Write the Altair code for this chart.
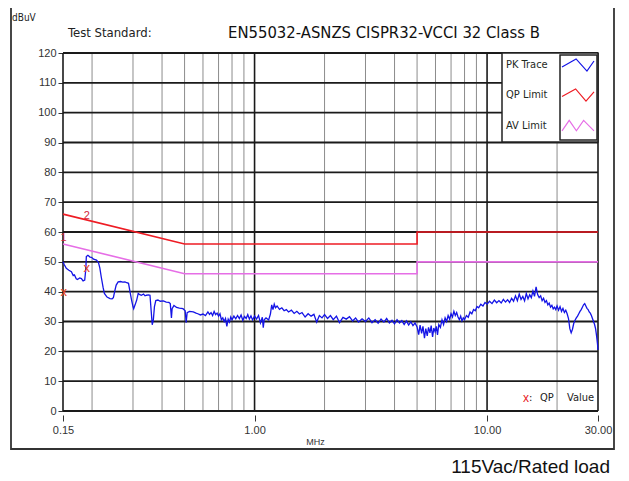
import altair as alt
import pandas as pd

# ---------------- data ----------------
FREQ = [0.150, 0.152, 0.155, 0.159, 0.163, 0.166, 0.168, 0.171, 0.173, 0.177, 0.180, 0.183, 0.186, 0.188, 0.189,
        0.192, 0.196, 0.199, 0.203, 0.209, 0.213, 0.216, 0.219, 0.223, 0.226, 0.232, 0.239, 0.244, 0.247, 0.251,
        0.254, 0.259, 0.265, 0.271, 0.277, 0.282, 0.287, 0.292, 0.296, 0.300, 0.302, 0.306, 0.311, 0.316, 0.321,
        0.326, 0.333, 0.338, 0.343, 0.350, 0.355, 0.359, 0.363, 0.367, 0.371, 0.376, 0.384, 0.393, 0.405, 0.417,
        0.428, 0.434, 0.439, 0.442, 0.450, 0.462, 0.475, 0.492, 0.503, 0.508, 0.513, 0.525, 0.545, 0.560, 0.570,
        0.585, 0.600, 0.615, 0.630, 0.640, 0.650, 0.660, 0.670, 0.680, 0.690, 0.700, 0.710, 0.720, 0.730, 0.740,
        0.750, 0.760, 0.770, 0.780, 0.790, 0.800, 0.815, 0.830, 0.845, 0.860, 0.875, 0.890, 0.905, 0.920, 0.935,
        0.950, 0.965, 0.980, 1.000, 1.020, 1.040, 1.060, 1.080, 1.090, 1.100, 1.120, 1.150, 1.170, 1.185, 1.200,
        1.215, 1.230, 1.250, 1.280, 1.310, 1.340, 1.370, 1.400, 1.440, 1.480, 1.520, 1.560, 1.600, 1.650, 1.700,
        1.750, 1.800, 1.850, 1.900, 1.950, 2.000, 2.060, 2.120, 2.180, 2.250, 2.320, 2.400, 2.480, 2.560, 2.640,
        2.720, 2.800, 2.900, 3.000, 3.100, 3.200, 3.300, 3.400, 3.500, 3.600, 3.700, 3.800, 3.900, 4.000, 4.100,
        4.200, 4.300, 4.400, 4.500, 4.600, 4.700, 4.800, 4.900, 5.000, 5.080, 5.150, 5.230, 5.300, 5.380, 5.450,
        5.530, 5.600, 5.680, 5.750, 5.830, 5.900, 5.980, 6.050, 6.120, 6.200, 6.300, 6.400, 6.500, 6.600, 6.700,
        6.800, 6.900, 7.000, 7.100, 7.200, 7.300, 7.400, 7.500, 7.600, 7.700, 7.800, 7.900, 8.000, 8.150, 8.300,
        8.450, 8.600, 8.750, 8.900, 9.050, 9.200, 9.400, 9.600, 9.800, 10.00, 10.25, 10.50, 10.75, 11.00, 11.25,
        11.50, 11.75, 12.00, 12.25, 12.50, 12.75, 13.00, 13.25, 13.50, 13.75, 14.00, 14.25, 14.50, 14.75, 15.00,
        15.25, 15.50, 15.75, 16.00, 16.25, 16.50, 16.75, 17.00, 17.25, 17.50, 17.75, 18.00, 18.25, 18.50, 18.75,
        19.00, 19.25, 19.50, 19.75, 20.00, 20.30, 20.60, 20.90, 21.20, 21.50, 21.80, 22.10, 22.40, 22.70, 23.00,
        23.30, 23.60, 23.90, 24.20, 24.50, 24.80, 25.10, 25.40, 25.70, 26.00, 26.30, 26.60, 26.90, 27.20, 27.50,
        27.80, 28.10, 28.40, 28.70, 29.00, 29.30, 29.60, 29.85, 30.00]
PK = [50.0, 49.0, 47.8, 47.2, 46.7, 45.4, 45.6, 44.3, 44.1, 44.6, 44.4, 43.6, 43.9, 47.5, 51.8,
      52.2, 51.6, 51.5, 50.9, 50.6, 49.8, 48.0, 45.0, 41.5, 39.4, 38.2, 37.7, 37.6, 38.0, 40.5,
      42.2, 43.3, 43.4, 43.2, 43.3, 43.0, 42.8, 39.5, 37.1, 35.0, 34.3, 35.5, 37.1, 39.4, 39.0,
      38.8, 39.2, 38.6, 38.8, 38.9, 38.8, 33.8, 28.9, 30.5, 35.0, 37.0, 37.2, 36.8, 36.9, 36.5,
      36.4, 36.0, 31.2, 34.3, 35.4, 34.7, 34.5, 34.3, 33.6, 29.6, 33.0, 33.4, 33.2, 32.8, 32.6,
      32.2, 32.5, 32.0, 33.2, 32.4, 33.0, 32.0, 33.4, 32.3, 32.8, 31.8, 32.6, 30.6, 31.2, 30.0,
      31.0, 28.4, 30.8, 29.8, 31.5, 30.6, 31.8, 30.9, 32.0, 31.0, 32.2, 30.4, 31.7, 31.0, 32.3,
      30.8, 31.9, 30.5, 31.8, 30.8, 32.0, 29.5, 31.4, 27.9, 30.6, 31.2, 30.5, 32.5, 35.6, 34.0,
      35.8, 34.6, 35.2, 34.1, 34.6, 33.6, 34.0, 33.2, 33.8, 32.7, 33.4, 32.5, 33.0, 31.5, 32.6,
      31.8, 32.4, 29.8, 32.0, 31.2, 32.3, 31.0, 32.0, 30.6, 31.8, 29.6, 31.4, 30.8, 31.6, 30.2,
      31.2, 29.8, 30.9, 30.0, 31.2, 29.6, 30.6, 29.4, 30.8, 29.8, 31.0, 29.5, 30.4, 29.2, 30.6,
      29.5, 30.3, 29.0, 30.2, 28.8, 29.9, 28.6, 29.5, 28.2, 25.6, 28.8, 26.0, 28.4, 24.4, 27.6,
      25.2, 28.0, 26.2, 28.6, 24.8, 27.8, 26.5, 28.4, 25.5, 29.0, 28.0, 30.6, 29.0, 31.2, 30.0,
      32.0, 30.8, 32.6, 31.5, 33.4, 32.0, 33.0, 31.5, 30.6, 31.8, 30.2, 31.2, 30.6, 32.0, 31.4,
      33.2, 32.6, 34.0, 33.6, 35.0, 34.6, 35.8, 35.2, 36.4, 35.8, 36.8, 36.0, 37.2, 36.3, 37.0,
      36.2, 37.4, 36.5, 37.3, 36.4, 37.8, 36.8, 38.6, 37.0, 39.2, 37.4, 38.4, 36.9, 39.4, 37.6,
      39.0, 38.0, 40.2, 38.4, 41.6, 39.0, 38.0, 38.6, 37.0, 37.8, 36.4, 37.0, 35.6, 36.2, 34.8,
      35.4, 34.2, 34.8, 34.0, 35.2, 33.8, 35.0, 33.4, 34.4, 33.0, 33.8, 32.6, 31.0, 27.6, 26.2,
      27.4, 29.4, 30.4, 31.2, 31.8, 32.6, 33.4, 34.0, 34.8, 35.6, 36.0, 35.2, 34.4, 34.0, 33.2,
      32.8, 32.0, 31.0, 30.0, 29.0, 27.5, 25.0, 22.5, 20.5]

QP_F = [0.15, 0.5, 5, 5, 30]
QP_V = [66, 56, 56, 60, 60]
AV_F = [0.15, 0.5, 5, 5, 30]
AV_V = [56, 46, 46, 50, 50]

MARK_F = [0.151, 0.19]
MARK_V = [40, 48]
MARK_LABEL = ["1", "2"]
MARK_LABEL_V = [58, 65.5]

Y_TICKS = list(range(0, 130, 10))
X_LABELS = [0.15, 1, 10, 30]
MINOR_GRID = [0.2, 0.3, 0.4, 0.5, 0.6, 0.7, 0.8, 0.9, 2, 3, 4, 5, 6, 7, 8, 9, 20]
MAJOR_GRID = [0.15, 1, 10, 30]

LEGEND_NAMES = ["PK Trace", "QP Limit", "AV Limit"]
LEGEND_COLORS = ["#1414e6", "#ee1c24", "#e66ee6"]

# ---------------- chart ----------------
W, H = 535, 358
NARROW = "Liberation Sans Narrow, Arial Narrow, DejaVu Sans Condensed, Liberation Sans, Arial"
xs = alt.Scale(type="log", domain=[0.15, 30], nice=False)
ys = alt.Scale(domain=[0, 120], nice=False)

XA = alt.Axis(values=X_LABELS, format=".2f", title="MHz", titleFontSize=9,
              titleFontWeight="normal", titleFont="Liberation Sans", titleColor="#333",
              titlePadding=2, titleX=252, labelFont="Liberation Sans", labelFontSize=11, labelColor="#333",
              tickSize=6, tickColor="#333", domain=False, grid=False, offset=4,
              labelPadding=3, labelFlush=False)
YA = alt.Axis(values=Y_TICKS, title=None, labelFont="Liberation Sans", labelFontSize=11,
              labelColor="#333", tickSize=5, tickColor="#333", domain=False,
              grid=False, labelPadding=2)


def X(field):
    return alt.X(field, scale=xs, axis=XA)


def Y(field):
    return alt.Y(field, scale=ys, axis=YA)


trace = pd.DataFrame({"f": FREQ, "v": PK})
qp = pd.DataFrame({"f": QP_F, "v": QP_V, "i": range(len(QP_F))})
av = pd.DataFrame({"f": AV_F, "v": AV_V, "i": range(len(AV_F))})
marks = pd.DataFrame({"f": MARK_F, "v": MARK_V, "lab": MARK_LABEL, "lv": MARK_LABEL_V})

minor = alt.Chart(pd.DataFrame({"f": MINOR_GRID})).mark_rule(color="#8c8c8c", strokeWidth=1).encode(
    x=X("f:Q"))
hgrid = alt.Chart(pd.DataFrame({"v": Y_TICKS})).mark_rule(color="#1a1a1a", strokeWidth=1.8).encode(
    y=Y("v:Q"))
major = alt.Chart(pd.DataFrame({"f": MAJOR_GRID})).mark_rule(color="#1a1a1a", strokeWidth=1.6).encode(
    x=X("f:Q"))

qp_line = alt.Chart(qp).mark_line(color=LEGEND_COLORS[1], strokeWidth=1.6).encode(
    x=X("f:Q"), y=Y("v:Q"), order="i:Q")
av_line = alt.Chart(av).mark_line(color=LEGEND_COLORS[2], strokeWidth=1.6).encode(
    x=X("f:Q"), y=Y("v:Q"), order="i:Q")
pk_line = alt.Chart(trace).mark_line(color=LEGEND_COLORS[0], strokeWidth=1.3).encode(
    x=X("f:Q"), y=Y("v:Q"))

mk_x = alt.Chart(marks).mark_text(text="x", color="#e8401c", fontSize=13, font="Liberation Sans").encode(
    x=X("f:Q"), y=Y("v:Q"))
mk_lab = alt.Chart(marks).mark_text(color="#d2283c", fontSize=11, font="Liberation Sans").encode(
    x=X("f:Q"), y=Y("lv:Q"), text="lab:N")


def txt(s, px, py, size, align="left", color="#222", font=NARROW):
    return alt.Chart(alt.Data(values=[{"t": s}])).mark_text(
        align=align, baseline="middle", fontSize=size, font=font, color=color).encode(
        x=alt.value(px), y=alt.value(py), text="t:N")


def box(x1, x2, y1, y2, fill, stroke, sw):
    return alt.Chart(alt.Data(values=[{}])).mark_rect(fill=fill, stroke=stroke, strokeWidth=sw).encode(
        x=alt.value(x1), x2=alt.value(x2), y=alt.value(y1), y2=alt.value(y2))


frame = box(-52, 551, -46, 396, "transparent", "#333333", 1.8)
leg_box = box(439, 535, 0, 89, "white", "#222222", 1.5)
leg_inner = box(497, 534, 2, 87, "white", "#222222", 1.5)

ICONS = ["M-1,0.12L-0.12,-0.38L0.56,0.38L1,-0.25",
         "M-1,0.1L-0.15,-0.38L0.5,0.38L1,-0.2",
         "M-1,0.3L-0.55,-0.35L-0.1,0.3L0.35,-0.35L1,0.3"]
leg_layers = []
for k, (name, col, ic) in enumerate(zip(LEGEND_NAMES, LEGEND_COLORS, ICONS)):
    yy = [12, 42, 73][k]
    leg_layers.append(txt(name, 443, yy, 11, color="#1e2a1e"))
    leg_layers.append(alt.Chart(alt.Data(values=[{}])).mark_point(
        shape=ic, size=1024, filled=False, strokeWidth=1.2, color=col, opacity=1).encode(
        x=alt.value(515), y=alt.value(yy)))

texts = [
    txt("dBuV", -51, -35, 10),
    txt("Test Standard:", 5, -20, 13),
    txt("EN55032-ASNZS CISPR32-VCCI 32 Class B", 321, -20, 16.5, align="center", color="#111"),
    txt("115Vac/Rated load", 547, 414, 19, align="right", color="#111", font="Liberation Sans, Arial"),
    txt("x", 460, 345, 12, color="#e8201c", font="Liberation Sans"),
    txt(":", 466, 345, 11),
    txt("QP", 477, 345, 11),
    txt("Value", 504, 345, 11),
]

chart = alt.layer(
    minor, hgrid, major, qp_line, av_line, pk_line, mk_x, mk_lab,
    frame, leg_box, leg_inner, *leg_layers, *texts
).properties(
    width=W, height=H,
    autosize=alt.AutoSizeParams(type="none"),
    padding={"left": 55, "top": 45, "right": 18, "bottom": 66},
    background="white",
).configure_view(stroke=None)

chart.save("out.html", embed_options={"renderer": "svg", "actions": False})
